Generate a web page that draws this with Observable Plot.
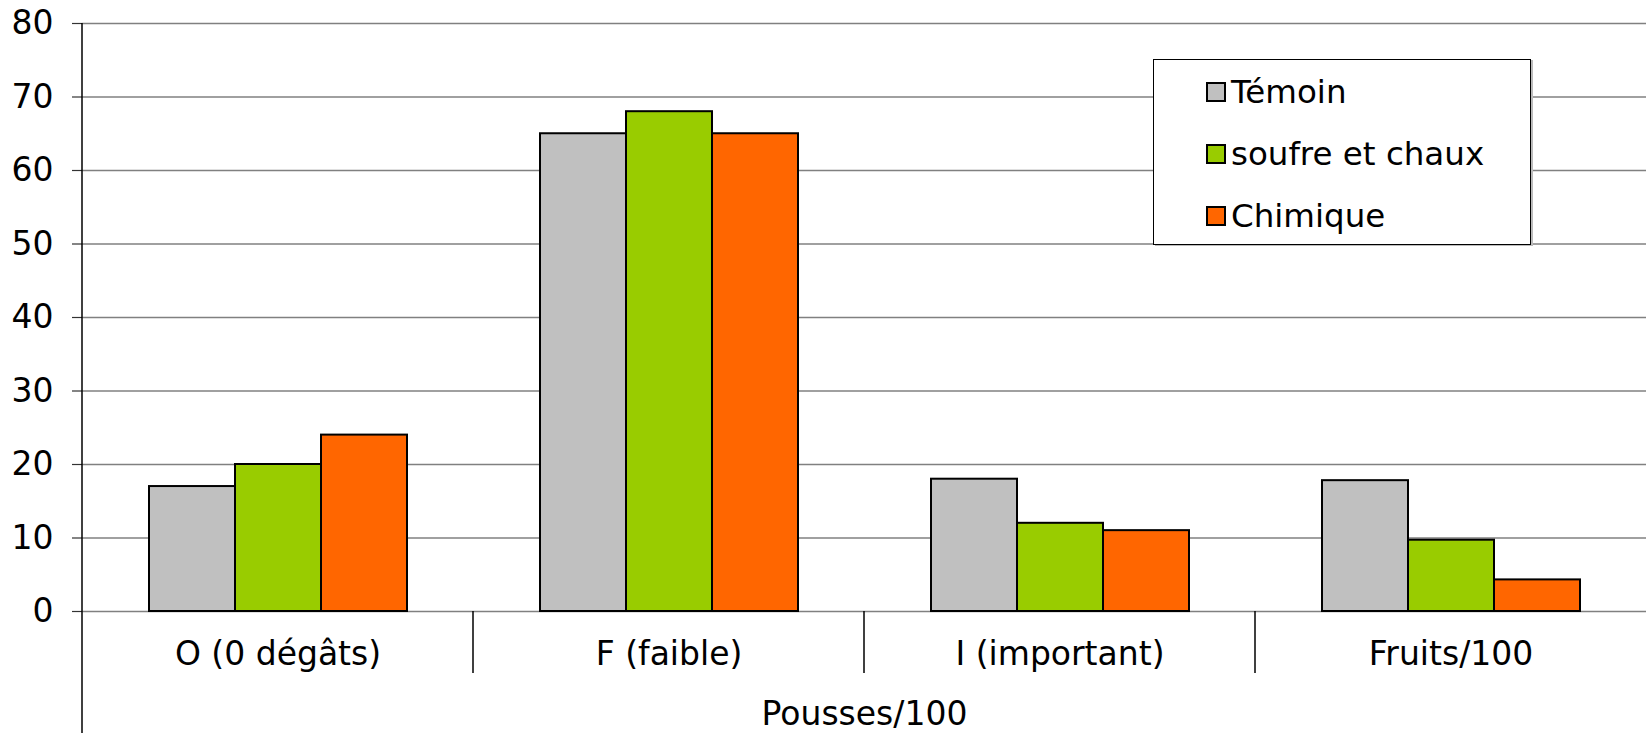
<!DOCTYPE html>
<html><head><meta charset="utf-8">
<script src="https://cdn.jsdelivr.net/npm/d3@7"></script>
<script src="https://cdn.jsdelivr.net/npm/@observablehq/plot@0.6"></script>
<style>
body{margin:0;background:#fff;font-family:"DejaVu Sans",Verdana,sans-serif}
#wrap{position:relative;width:1646px;height:733px;overflow:hidden}
#legend{position:absolute;left:1153px;top:59px;width:376px;height:184px;border:1.5px solid #000;background:#fff;box-shadow:2px 1px 0 #bbb}
.row{position:absolute;left:52px;height:40px;display:flex;align-items:center;font-size:32.5px;color:#000;white-space:nowrap}
.sw{width:16px;height:16px;border:2px solid #000;margin-right:5px;flex:none}
</style></head><body><div id="wrap"><div id="legend"></div></div>
<script>
const categories = ["O (0 dégâts)", "F (faible)", "I (important)", "Fruits/100"];
const series = ["Témoin", "soufre et chaux", "Chimique"];
const colors = ["#C0C0C0", "#99CC00", "#FF6600"];
const temoin = [17, 65, 18, 17.8];
const soufre = [20, 68, 12, 9.7];
const chimique = [24, 65, 11, 4.3];
const yTicks = [0, 10, 20, 30, 40, 50, 60, 70, 80];
const groupTitle = "Pousses/100";

const seriesValues = [temoin, soufre, chimique];
const rows = [];
categories.forEach((c, ci) => series.forEach((s, si) => rows.push({category: c, series: s, value: seriesValues[si][ci]})));

const edges = Plot.ruleY(categories, {
  fx: d => d, y: () => 0, stroke: "none",
  render(index, scales, values, dimensions) {
    const g = d3.create("svg:g");
    const x0 = scales.x && scales.x.range ? scales.x.range()[0] : dimensions.marginLeft;
    const y0 = scales.y(0);
    for (const i of index) {
      const first = categories[i] === categories[0];
      g.append("line")
        .attr("x1", x0).attr("x2", x0)
        .attr("y1", first ? scales.y(yTicks[yTicks.length - 1]) : y0)
        .attr("y2", first ? dimensions.height : y0 + 62)
        .attr("stroke", "#000").attr("stroke-width", 1.5);
    }
    return g.node();
  }
});

const chart = Plot.plot({
  width: 1646, height: 733,
  marginLeft: 82, marginRight: 0, marginTop: 23, marginBottom: 122,
  style: {fontFamily: "'DejaVu Sans', Verdana, sans-serif", fontSize: "33px", background: "white", color: "black"},
  fx: {domain: categories, padding: 0, axis: null},
  x: {domain: series, paddingInner: 0, paddingOuter: 0.75, axis: null},
  y: {domain: [0, 80], axis: null},
  color: {domain: series, range: colors},
  marks: [
    Plot.ruleY(yTicks, {stroke: "#808080", strokeWidth: 1.5}),
    Plot.axisY({ticks: yTicks, tickSize: 10, tickPadding: 19, fontSize: 33, label: null, stroke: "#333", strokeWidth: 1.2}),
    Plot.barY(rows, {fx: "category", x: "series", y: "value", fill: "series", stroke: "black", strokeWidth: 2, inset: 0}),
    edges,
    Plot.text(categories, {fx: d => d, text: d => d, frameAnchor: "bottom", dy: 53, fontSize: 33, fill: "black"}),
    Plot.text([groupTitle], {text: d => d, frameAnchor: "bottom", dy: 113, fontSize: 33, fill: "black", facet: "super"})
  ]
});
const wrap = document.getElementById("wrap");
wrap.insertBefore(chart, wrap.firstChild);

const legend = document.getElementById("legend");
const rowTops = [12, 74, 136];
series.forEach((s, i) => {
  const r = document.createElement("div");
  r.className = "row";
  r.style.top = rowTops[i] + "px";
  const sw = document.createElement("div");
  sw.className = "sw";
  sw.style.background = colors[i];
  const t = document.createElement("span");
  t.textContent = s;
  r.appendChild(sw); r.appendChild(t);
  legend.appendChild(r);
});
</script></body></html>
